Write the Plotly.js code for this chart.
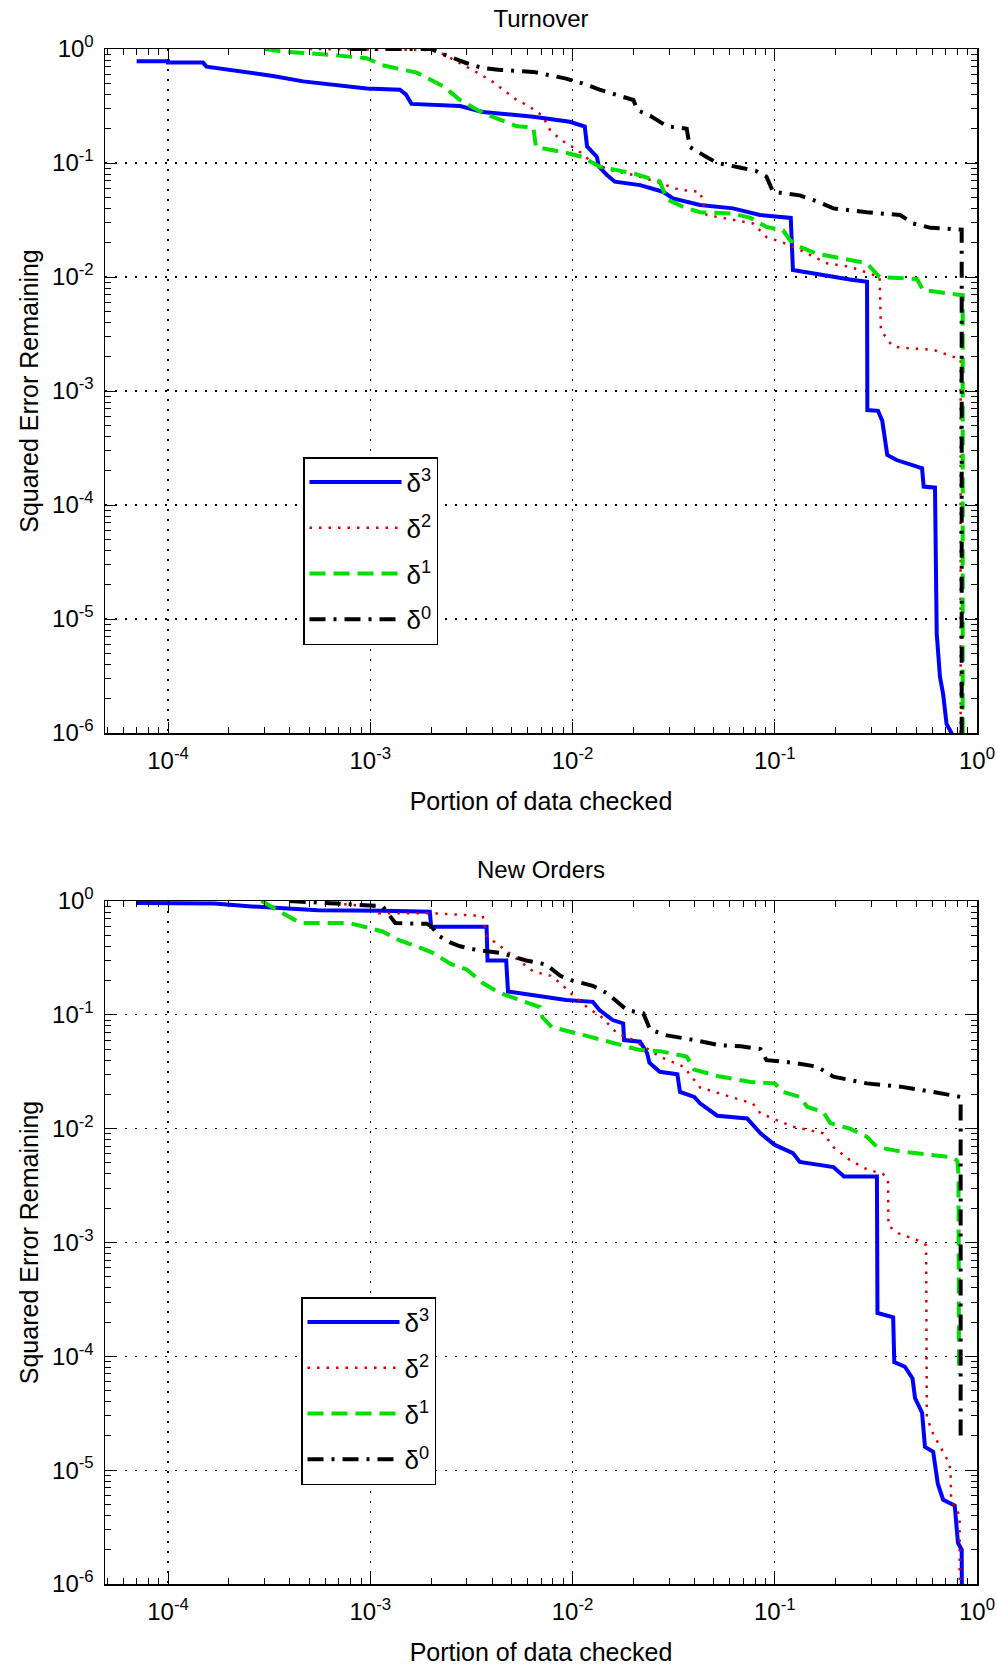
<!DOCTYPE html>
<html><head><meta charset="utf-8">
<script src="https://cdn.plot.ly/plotly-3.0.1.min.js"></script>
<style>html,body{margin:0;padding:0;background:#fff;}#chart{width:997px;height:1666px;}</style>
</head><body><div id="chart"></div>
<script>
// ---------- data ----------
const seriesNames = ['δ<sup>3</sup>', 'δ<sup>2</sup>', 'δ<sup>1</sup>', 'δ<sup>0</sup>'];
const xTickVals = [1e-4, 1e-3, 1e-2, 1e-1, 1];
const xTickText = ['10<sup>-4</sup>', '10<sup>-3</sup>', '10<sup>-2</sup>', '10<sup>-1</sup>', '10<sup>0</sup>'];
const yTickVals = [1e-6, 1e-5, 1e-4, 1e-3, 1e-2, 1e-1, 1];
const yTickText = ['10<sup>-6</sup>', '10<sup>-5</sup>', '10<sup>-4</sup>', '10<sup>-3</sup>', '10<sup>-2</sup>', '10<sup>-1</sup>', '10<sup>0</sup>'];

// Turnover
const turnoverD3x = [7.0e-5, 1.0e-4, 1.0e-4, 1.49e-4, 1.55e-4, 2.27e-4, 3.3e-4, 4.66e-4, 6.86e-4, 9.6e-4, 1.4e-3, 1.5e-3, 1.6e-3, 2.78e-3, 3.6e-3, 6.4e-3, 9.7e-3, 1.05e-2, 1.15e-2, 1.18e-2, 1.32e-2, 1.35e-2, 1.48e-2, 1.62e-2, 2.16e-2, 2.8e-2, 3.14e-2, 4.27e-2, 6.22e-2, 8.45e-2, 0.115, 0.12, 0.123, 0.1675, 0.235, 0.286, 0.287, 0.324, 0.34, 0.36, 0.40, 0.505, 0.535, 0.545, 0.62, 0.632, 0.656, 0.68, 0.707, 0.748, 0.76];
const turnoverD3y = [0.78, 0.78, 0.76, 0.76, 0.70, 0.64, 0.58, 0.52, 0.48, 0.45, 0.44, 0.40, 0.33, 0.316, 0.28, 0.255, 0.23, 0.22, 0.209, 0.14, 0.113, 0.093, 0.0785, 0.0686, 0.064, 0.056, 0.049, 0.0428, 0.040, 0.035, 0.0338, 0.033, 0.0115, 0.0104, 0.0095, 0.0091, 6.8e-4, 6.7e-4, 5.5e-4, 2.75e-4, 2.48e-4, 2.17e-4, 2.1e-4, 1.45e-4, 1.42e-4, 7.5e-6, 3.1e-6, 2.2e-6, 1.2e-6, 1.0e-6, 5e-7];
const turnoverD2x = [5e-4, 2.0e-3, 2.3e-3, 2.8e-3, 3.5e-3, 4.0e-3, 5.3e-3, 6.0e-3, 7.1e-3, 7.8e-3, 9.0e-3, 1.0e-2, 1.1e-2, 1.26e-2, 1.53e-2, 2.0e-2, 2.5e-2, 3.4e-2, 4.27e-2, 4.6e-2, 6.22e-2, 7.8e-2, 9.1e-2, 0.11, 0.133, 0.181, 0.235, 0.285, 0.33, 0.335, 0.38, 0.416, 0.607, 0.76, 0.83, 0.83];
const turnoverD2y = [1.0, 0.98, 0.9, 0.75, 0.6, 0.52, 0.357, 0.32, 0.26, 0.19, 0.155, 0.138, 0.123, 0.10, 0.087, 0.0785, 0.07, 0.058, 0.056, 0.035, 0.0316, 0.0295, 0.0224, 0.020, 0.0173, 0.0132, 0.0123, 0.011, 0.010, 3.4e-3, 2.5e-3, 2.4e-3, 2.3e-3, 2.0e-3, 1.9e-3, 1e-7];
const turnoverD1x = [3.0e-4, 3.7e-4, 6.3e-4, 9.6e-4, 1.15e-3, 1.7e-3, 2.3e-3, 2.78e-3, 3.6e-3, 4.4e-3, 5.3e-3, 6.4e-3, 6.6e-3, 9.3e-3, 1.12e-2, 1.36e-2, 1.66e-2, 2.0e-2, 2.7e-2, 2.93e-2, 3.55e-2, 4.27e-2, 6.22e-2, 7.6e-2, 9.1e-2, 0.11, 0.119, 0.133, 0.162, 0.235, 0.285, 0.33, 0.505, 0.54, 0.85, 0.85];
const turnoverD1y = [1.0, 0.95, 0.89, 0.83, 0.72, 0.62, 0.47, 0.357, 0.275, 0.238, 0.21, 0.205, 0.138, 0.123, 0.113, 0.093, 0.087, 0.081, 0.069, 0.048, 0.041, 0.037, 0.036, 0.033, 0.0275, 0.0257, 0.021, 0.0184, 0.016, 0.014, 0.0132, 0.010, 0.0096, 0.0077, 0.0069, 1e-7];
const turnoverD0x = [8e-4, 2.0e-3, 2.3e-3, 2.57e-3, 3.0e-3, 3.6e-3, 4.4e-3, 6.4e-3, 9.3e-3, 1.12e-2, 1.36e-2, 2.0e-2, 2.1e-2, 2.42e-2, 2.93e-2, 3.67e-2, 3.8e-2, 4.6e-2, 5.2e-2, 6.8e-2, 8.1e-2, 9.1e-2, 9.8e-2, 0.133, 0.162, 0.195, 0.285, 0.417, 0.483, 0.59, 0.84, 0.84];
const turnoverD0y = [1.0, 1.0, 0.9, 0.83, 0.75, 0.68, 0.655, 0.63, 0.55, 0.50, 0.44, 0.357, 0.29, 0.26, 0.21, 0.20, 0.138, 0.113, 0.10, 0.091, 0.085, 0.076, 0.056, 0.052, 0.046, 0.040, 0.037, 0.035, 0.0295, 0.027, 0.026, 1e-7];

// New Orders
const newOrdersD3x = [7e-5, 1.7e-4, 2.5e-4, 5.5e-4, 1.15e-3, 1.97e-3, 2.0e-3, 3.76e-3, 3.8e-3, 4.7e-3, 4.8e-3, 6.4e-3, 9.3e-3, 1.26e-2, 1.36e-2, 1.58e-2, 1.78e-2, 1.8e-2, 2.16e-2, 2.34e-2, 2.4e-2, 2.7e-2, 3.3e-2, 3.4e-2, 4.0e-2, 4.27e-2, 5.2e-2, 7.3e-2, 8.5e-2, 0.10, 0.123, 0.133, 0.195, 0.22, 0.32, 0.322, 0.385, 0.39, 0.44, 0.48, 0.494, 0.535, 0.553, 0.607, 0.64, 0.68, 0.776, 0.805, 0.84, 0.845];
const newOrdersD3y = [0.96, 0.95, 0.90, 0.83, 0.82, 0.805, 0.594, 0.594, 0.30, 0.30, 0.16, 0.149, 0.135, 0.13, 0.11, 0.09, 0.084, 0.06, 0.058, 0.046, 0.038, 0.0316, 0.030, 0.021, 0.019, 0.0167, 0.013, 0.0123, 0.0091, 0.0072, 0.0061, 0.0051, 0.0046, 0.0038, 0.0038, 2.4e-4, 2.2e-4, 8.9e-5, 8.1e-5, 6.4e-5, 4.3e-5, 3.2e-5, 1.6e-5, 1.45e-5, 7.6e-6, 5.5e-6, 4.9e-6, 2.3e-6, 2.0e-6, 1e-7];
const newOrdersD2x = [6e-4, 7.7e-4, 1.05e-3, 1.1e-3, 2.0e-3, 3.6e-3, 3.76e-3, 4.4e-3, 6.4e-3, 7.8e-3, 8.7e-3, 9.8e-3, 1.23e-2, 1.36e-2, 1.66e-2, 2.0e-2, 2.7e-2, 3.55e-2, 4.27e-2, 6.22e-2, 7.8e-2, 8.5e-2, 0.102, 0.123, 0.174, 0.195, 0.235, 0.285, 0.343, 0.363, 0.365, 0.41, 0.505, 0.56, 0.565, 0.606, 0.72, 0.74, 0.745, 0.82, 0.825];
const newOrdersD2y = [1.0, 0.93, 0.89, 0.78, 0.78, 0.74, 0.49, 0.40, 0.24, 0.22, 0.19, 0.155, 0.11, 0.10, 0.069, 0.06, 0.043, 0.035, 0.023, 0.0186, 0.0166, 0.0136, 0.012, 0.0104, 0.0091, 0.0069, 0.0053, 0.0044, 0.0040, 0.0036, 1.4e-3, 1.2e-3, 1.05e-3, 9.5e-4, 2.9e-5, 2.1e-5, 1.2e-5, 1.0e-5, 5.5e-6, 4.0e-6, 1e-7];
const newOrdersD1x = [2.9e-4, 3.9e-4, 4.5e-4, 7.9e-4, 9.6e-4, 1.15e-3, 1.4e-3, 1.7e-3, 2.04e-3, 2.5e-3, 3.0e-3, 3.6e-3, 4.4e-3, 5.5e-3, 6.9e-3, 7.1e-3, 7.9e-3, 1.15e-2, 1.66e-2, 2.16e-2, 2.7e-2, 3.67e-2, 4.0e-2, 5.2e-2, 7.6e-2, 0.10, 0.11, 0.133, 0.145, 0.174, 0.188, 0.235, 0.285, 0.32, 0.417, 0.607, 0.76, 0.80, 0.81, 0.815];
const newOrdersD1y = [1.0, 0.75, 0.64, 0.64, 0.59, 0.54, 0.45, 0.40, 0.35, 0.28, 0.25, 0.19, 0.155, 0.135, 0.117, 0.095, 0.078, 0.066, 0.056, 0.049, 0.048, 0.043, 0.033, 0.029, 0.0257, 0.025, 0.021, 0.019, 0.0155, 0.014, 0.0112, 0.010, 0.0085, 0.0069, 0.0063, 0.0059, 0.0056, 0.0052, 0.004, 7e-5];
const newOrdersD0x = [4e-4, 6.6e-4, 1.15e-3, 1.33e-3, 1.9e-3, 2.0e-3, 2.2e-3, 2.5e-3, 2.78e-3, 3.4e-3, 4.4e-3, 5.9e-3, 7.4e-3, 8.7e-3, 1.0e-2, 1.26e-2, 1.48e-2, 1.86e-2, 2.24e-2, 2.42e-2, 2.93e-2, 4.0e-2, 5.37e-2, 6.8e-2, 8.5e-2, 9.1e-2, 0.123, 0.162, 0.195, 0.285, 0.417, 0.607, 0.794, 0.83, 0.83];
const newOrdersD0y = [1.0, 0.95, 0.90, 0.64, 0.63, 0.60, 0.49, 0.43, 0.40, 0.37, 0.35, 0.30, 0.277, 0.22, 0.20, 0.18, 0.155, 0.11, 0.103, 0.074, 0.066, 0.060, 0.054, 0.053, 0.050, 0.040, 0.038, 0.035, 0.0286, 0.025, 0.0234, 0.021, 0.019, 0.019, 1.8e-5];

// ---------- styling ----------
const FONT = 'Liberation Sans, Arial, Helvetica, sans-serif';
const W = 997, H = 1666;
const styles = [
  {color: '#0000ff', width: 4, dash: 'solid'},
  {color: '#e00000', width: 2.5, dash: '2.5px,7px'},
  {color: '#00e000', width: 4, dash: '16px,8px'},
  {color: '#000000', width: 4, dash: '16px,8px,3px,8px'}
];

function minorVals(lo, hi) {
  const v = [];
  for (let e = lo; e <= hi; e++) for (let m = 2; m <= 9; m++) v.push(m * Math.pow(10, e));
  return v;
}

function mkTraces(xs, ys, xa, ya, leg, grpPrefix) {
  return xs.map((x, i) => ({
    type: 'scatter', mode: 'lines', x: x, y: ys[i],
    xaxis: xa, yaxis: ya, legend: leg, legendgroup: grpPrefix + i,
    name: seriesNames[i], line: styles[i], hoverinfo: 'skip'
  }));
}

const data = [].concat(
  mkTraces([turnoverD3x, turnoverD2x, turnoverD1x, turnoverD0x],
           [turnoverD3y, turnoverD2y, turnoverD1y, turnoverD0y], 'x', 'y', 'legend', 't'),
  mkTraces([newOrdersD3x, newOrdersD2x, newOrdersD1x, newOrdersD0x],
           [newOrdersD3y, newOrdersD2y, newOrdersD1y, newOrdersD0y], 'x2', 'y2', 'legend2', 'n')
);

const xDomain = [105 / W, 977 / W];
const topDomain = [1 - 733 / H, 1 - 49 / H];
const botDomain = [1 - 1584 / H, 1 - 901 / H];

function xAxis(anchor) {
  return {
    type: 'log', range: [-4.3115, 0], domain: xDomain, anchor: anchor,
    tickmode: 'array', tickvals: xTickVals, ticktext: xTickText,
    ticks: 'inside', ticklen: 11, tickwidth: 1, tickcolor: '#000',
    minor: {tickmode: 'array', tickvals: minorVals(-5, -1), ticks: 'inside', ticklen: 6, tickwidth: 1, tickcolor: '#000', showgrid: false},
    showgrid: true, gridcolor: '#000', gridwidth: 1.3, griddash: '2px,8px',
    showline: true, linecolor: '#000', linewidth: 1.5, mirror: 'allticks',
    tickfont: {family: FONT, size: 24, color: '#000'}, ticklabelstandoff: 6,
    zeroline: false, automargin: false, fixedrange: true,
    title: {text: 'Portion of data checked', font: {family: FONT, size: 25, color: '#000'}, standoff: 19}
  };
}
function yAxis(anchor, domain) {
  return {
    type: 'log', range: [-6, 0], domain: domain, anchor: anchor,
    tickmode: 'array', tickvals: yTickVals, ticktext: yTickText,
    ticks: 'inside', ticklen: 11, tickwidth: 1, tickcolor: '#000',
    minor: {tickmode: 'array', tickvals: minorVals(-6, -1), ticks: 'inside', ticklen: 6, tickwidth: 1, tickcolor: '#000', showgrid: false},
    showgrid: true, gridcolor: '#000', gridwidth: 1.3, griddash: '2px,8px',
    showline: true, linecolor: '#000', linewidth: 1.5, mirror: 'allticks',
    tickfont: {family: FONT, size: 24, color: '#000'}, ticklabelstandoff: 5,
    zeroline: false, automargin: false, fixedrange: true,
    title: {text: 'Squared Error Remaining', font: {family: FONT, size: 25, color: '#000'}, standoff: 6}
  };
}

function legendBox(xpx, ypx) {
  return {
    x: xpx / W, y: 1 - ypx / H, xanchor: 'left', yanchor: 'top',
    bgcolor: '#ffffff', bordercolor: '#000', borderwidth: 1.5,
    font: {family: FONT, size: 26, color: '#000'},
    itemwidth: 92, tracegroupgap: 9, traceorder: 'grouped',
    itemclick: false, itemdoubleclick: false
  };
}

const layout = {
  width: W, height: H, margin: {l: 0, r: 0, t: 0, b: 0},
  paper_bgcolor: '#fff', plot_bgcolor: '#fff',
  font: {family: FONT, color: '#000'},
  showlegend: true,
  title: {text: 'Turnover', xref: 'paper', x: 541 / W, xanchor: 'center', yref: 'paper', y: 1 - 19 / H, yanchor: 'middle', font: {family: FONT, size: 24, color: '#000'}},
  xaxis: xAxis('y'), yaxis: yAxis('x', topDomain),
  xaxis2: xAxis('y2'), yaxis2: yAxis('x2', botDomain),
  legend: legendBox(303, 457), legend2: legendBox(301, 1297),
  annotations: [{text: 'New Orders', xref: 'paper', yref: 'paper', x: 541 / W, y: 1 - 870 / H, xanchor: 'center', yanchor: 'middle', showarrow: false, font: {family: FONT, size: 24, color: '#000'}}]
};

Plotly.newPlot('chart', data, layout, {staticPlot: true, displayModeBar: false});
</script></body></html>
